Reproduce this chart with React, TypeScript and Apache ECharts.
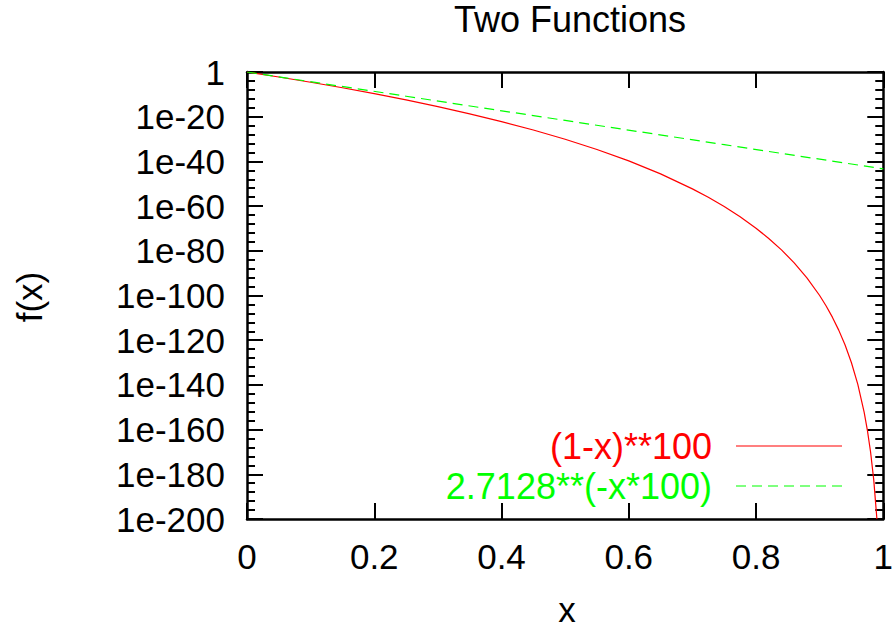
import React, { useEffect, useRef } from "react";
import * as echarts from "echarts";

// x sample positions
const xs = [0, 0.05, 0.1, 0.15, 0.2, 0.25, 0.3, 0.35, 0.4, 0.45, 0.5, 0.55, 0.6, 0.65, 0.7, 0.725, 0.75, 0.775, 0.8, 0.82, 0.84, 0.86, 0.88, 0.9, 0.91, 0.92, 0.93, 0.94, 0.95, 0.96, 0.97, 0.975, 0.98, 0.985, 0.99];
// log10 of (1-x)**100
const redExp = [0, -2.23, -4.58, -7.06, -9.69, -12.49, -15.49, -18.71, -22.18, -25.96, -30.1, -34.68, -39.79, -45.59, -52.29, -56.07, -60.21, -64.78, -69.9, -74.47, -79.59, -85.39, -92.08, -100, -104.58, -109.69, -115.49, -122.18, -130.1, -139.79, -152.29, -160.21, -169.9, -182.39, -200];
// log10 of 2.7128**(-x*100)
const greenX = [0, 0.25, 0.5, 0.75, 1];
const greenExp = [0, -10.84, -21.67, -32.51, -43.34];

const yTicks = [0, -20, -40, -60, -80, -100, -120, -140, -160, -180, -200];
const xTickLabels = ["0", "0.2", "0.4", "0.6", "0.8", "1"];

const title = "Two Functions";
const xName = "x";
const yName = "f(x)";
const redName = "(1-x)**100";
const greenName = "2.7128**(-x*100)";

const FONT = "Liberation Sans, Arial, sans-serif";
const FS = 35;
const LFS = 36;

export default function App() {
  const ref = useRef<HTMLDivElement>(null);
  useEffect(() => {
    if (!ref.current) return;
    const chart = echarts.init(ref.current, null, { renderer: "svg" });
    const L = 247, T = 72, W = 637, H = 447;
    const tickFmtX = (v: number) => {
      const i = Math.round(v / 0.2);
      return xTickLabels[i] ?? String(v);
    };
    const tickFmtY = (v: number) => {
      const r = Math.round(v);
      return yTicks.includes(r) ? (r === 0 ? "1" : "1e" + r) : "";
    };
    const axisLine = { show: true, onZero: false, lineStyle: { color: "#000", width: 2.5 } };
    const majorTick = { show: true, inside: true, length: 16, lineStyle: { color: "#000", width: 2 } };
    const minorTick = { show: true, splitNumber: 5, length: 8, lineStyle: { color: "#000", width: 2 } };
    chart.setOption({
      animation: false,
      backgroundColor: "#fff",
      grid: { left: L, top: T, width: W, height: H, containLabel: false },
      xAxis: [
        {
          type: "value", min: 0, max: 1, interval: 0.2, position: "bottom",
          axisLine, axisTick: majorTick, splitLine: { show: false },
          axisLabel: { formatter: tickFmtX, color: "#000", fontSize: FS, fontFamily: FONT, margin: 20 },
        },
        {
          type: "value", min: 0, max: 1, interval: 0.2, position: "top",
          axisLine, axisTick: majorTick, splitLine: { show: false },
          axisLabel: { show: false },
        },
      ],
      yAxis: [
        {
          type: "value", min: -200, max: 0, interval: 20, position: "left",
          axisLine, axisTick: majorTick, minorTick,
          splitLine: { show: false },
          axisLabel: { formatter: tickFmtY, color: "#000", fontSize: FS, fontFamily: FONT, margin: 22 },
        },
        {
          type: "value", min: -200, max: 0, interval: 20, position: "right",
          axisLine, axisTick: majorTick, minorTick,
          splitLine: { show: false },
          axisLabel: { show: false },
        },
      ],
      series: [
        {
          type: "line", name: redName, showSymbol: false, symbol: "none", clip: true, smooth: false,
          data: xs.map((x, i) => [x, redExp[i]]),
          lineStyle: { color: "#ff0000", width: 1.2 },
          z: 2,
        },
        {
          type: "line", name: greenName, showSymbol: false, symbol: "none", clip: true,
          data: greenX.map((x, i) => [x, greenExp[i]]),
          lineStyle: { color: "#00ff00", width: 1.2, type: [10, 6] },
          z: 3,
        },
      ],
      graphic: [
        {
          type: "text", x: 570, y: 19,
          style: { text: title, font: `36px ${FONT}`, lineHeight: 30, fill: "#000", align: "center", verticalAlign: "middle" },
        },
        {
          type: "text", x: 567, y: 609,
          style: { text: xName, font: `${FS}px ${FONT}`, fill: "#000", align: "center", verticalAlign: "middle" },
        },
        {
          type: "text", x: 29, y: 297, rotation: Math.PI / 2,
          style: { text: yName, font: `${FS}px ${FONT}`, fill: "#000", align: "center", verticalAlign: "middle" },
        },
        {
          type: "text", x: 712, y: 446,
          style: { text: redName, font: `${LFS}px ${FONT}`, fill: "#ff0000", align: "right", verticalAlign: "middle" },
        },
        {
          type: "line", shape: { x1: 736, y1: 446, x2: 842, y2: 446 },
          style: { stroke: "#ff0000", lineWidth: 1.2 },
        },
        {
          type: "text", x: 712, y: 486,
          style: { text: greenName, font: `${LFS}px ${FONT}`, fill: "#00ff00", align: "right", verticalAlign: "middle" },
        },
        {
          type: "line", shape: { x1: 736, y1: 486, x2: 842, y2: 486 },
          style: { stroke: "#00ff00", lineWidth: 1.2, lineDash: [10, 6] },
        },
      ],
    });
    return () => chart.dispose();
  }, []);
  return (
    <div
      ref={ref}
      style={{ position: "fixed", left: 0, top: 0, width: 896, height: 635, background: "#fff" }}
    />
  );
}
